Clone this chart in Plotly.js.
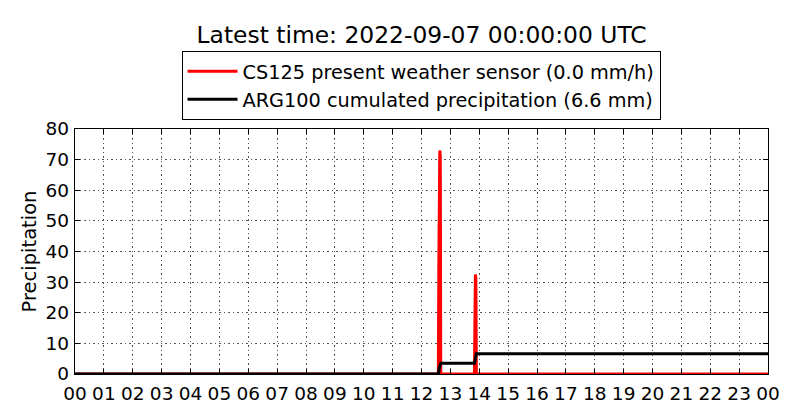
<!DOCTYPE html>
<html><head><meta charset="utf-8">
<script src="https://cdn.plot.ly/plotly-3.0.1.min.js"></script>
<style>body{margin:0;background:#fff}#c{width:800px;height:420px}</style>
</head><body><div id="c"></div>
<script>
// CS125 present weather sensor (mm/h)
const redTimes = ["2022-09-06 00:00","2022-09-06 12:35","2022-09-06 12:36","2022-09-06 12:37","2022-09-06 12:38","2022-09-06 12:39","2022-09-06 12:40","2022-09-06 13:50","2022-09-06 13:51","2022-09-06 13:52","2022-09-06 13:53","2022-09-06 13:54","2022-09-07 00:00"];
const redValues = [0,0,35,72,73,71,0,0,18,32.5,31,0,0];
// ARG100 cumulated precipitation (mm)
const blackTimes = ["2022-09-06 00:00","2022-09-06 12:35","2022-09-06 12:37","2022-09-06 12:40","2022-09-06 13:50","2022-09-06 13:52","2022-09-06 13:54","2022-09-07 00:00"];
const blackValues = [0,0,2.0,3.5,3.5,5.5,6.6,6.6];
const seriesNames = ["CS125 present weather sensor (0.0 mm/h)","ARG100 cumulated precipitation (6.6 mm)"];
const titleText = "Latest time: 2022-09-07 00:00:00 UTC";
const yTitle = "Precipitation";

const F = "DejaVu Sans, sans-serif";
const traces = [
  {x: redTimes, y: redValues, name: seriesNames[0], type: "scatter", mode: "lines",
   line: {color: "#ff0000", width: 3}},
  {x: blackTimes, y: blackValues, name: seriesNames[1], type: "scatter", mode: "lines",
   line: {color: "#000000", width: 3}}
];
const gridStyle = {showgrid: true, gridcolor: "#555", griddash: "1.5px,3px", gridwidth: 1};
const layout = {
  width: 800, height: 420,
  margin: {l: 75, r: 32, t: 129, b: 46},
  paper_bgcolor: "#fff", plot_bgcolor: "#fff",
  font: {family: F, color: "#000", size: 18},
  title: {text: titleText, font: {family: F, size: 23.4, color: "#000"},
          x: 0.527, xanchor: "center", y: 1 - 35/420, yanchor: "middle", yref: "container"},
  showlegend: true,
  legend: {x: 0.4993, xanchor: "center", y: 1.318, yanchor: "top",
           bordercolor: "#000", borderwidth: 1, bgcolor: "#fff", itemwidth: 50,
           font: {family: F, size: 19.3, color: "#000"}, tracegroupgap: 0},
  xaxis: Object.assign({type: "date", range: ["2022-09-06 00:00", "2022-09-07 00:00"],
          dtick: 3600000, tick0: "2022-09-06 00:00", tickformat: "%H",
          showline: true, linecolor: "#000", linewidth: 1.2, mirror: "ticks",
          ticks: "inside", ticklen: 5, tickcolor: "#000", ticklabelstandoff: 3,
          tickfont: {family: F, size: 18.5, color: "#000"}, zeroline: false,
          fixedrange: true}, gridStyle),
  yaxis: Object.assign({range: [0, 80], dtick: 10, tick0: 0,
          showline: true, linecolor: "#000", linewidth: 1.2, mirror: "ticks",
          ticks: "inside", ticklen: 5, tickcolor: "#000", ticklabelstandoff: 1,
          tickfont: {family: F, size: 18.5, color: "#000"}, zeroline: false,
          title: {text: yTitle, font: {family: F, size: 19.5, color: "#000"}, standoff: 3},
          fixedrange: true}, gridStyle)
};
Plotly.newPlot("c", traces, layout, {displayModeBar: false, staticPlot: true});
</script></body></html>
